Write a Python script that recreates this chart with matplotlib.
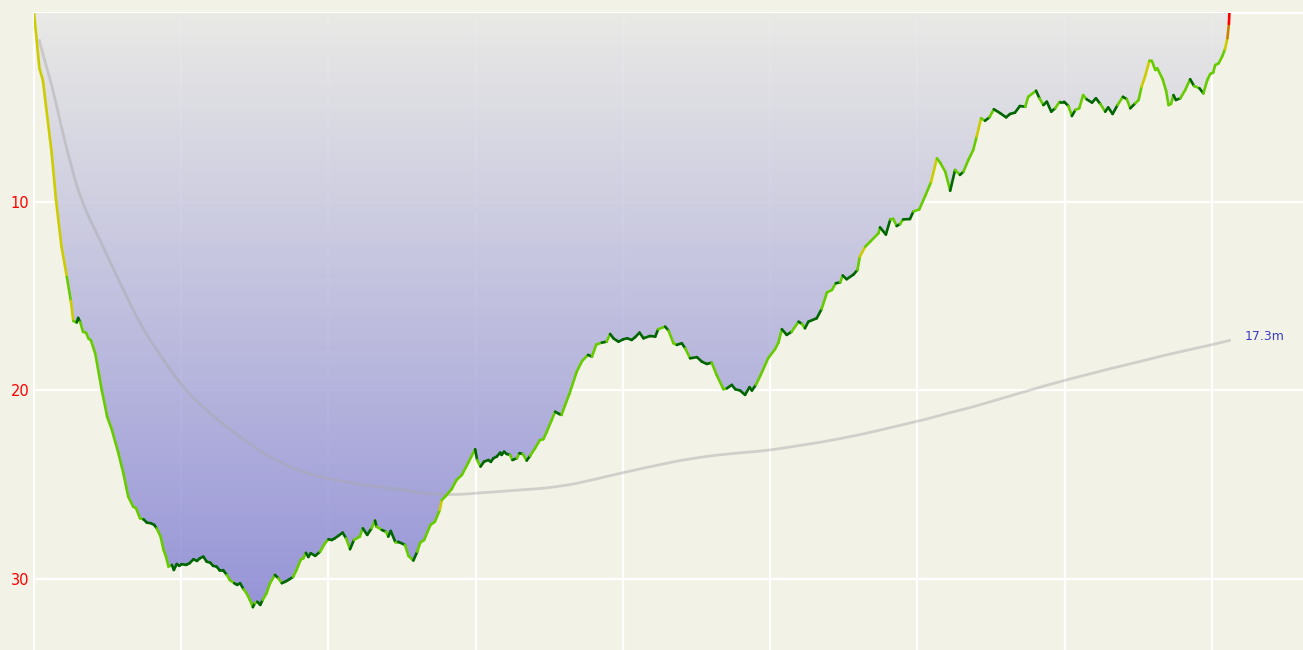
import numpy as np
import matplotlib
matplotlib.use("Agg")
import matplotlib.pyplot as plt
from matplotlib.collections import LineCollection
from matplotlib.colors import LinearSegmentedColormap
from matplotlib.patches import Polygon

# dive profile: time in seconds, depth in metres
time_s = [0, 11, 18, 36, 45, 56, 67, 75, 80, 87, 90, 94, 100, 106, 111, 116, 125, 138, 145,
          149, 158, 172, 182, 192, 202, 208, 216, 223, 230, 238, 245, 250, 258, 264, 269, 274, 281, 285, 291,
          296, 301, 310, 317, 325, 332, 338, 345, 352, 359, 365, 372, 378, 385, 393, 399, 408, 414, 420, 427,
          433, 440, 446, 450, 455, 461, 466, 474, 481, 491, 498, 505, 512, 518, 528, 535, 544, 549, 554, 559,
          564, 573, 583, 593, 600, 607, 613, 620, 629, 636, 644, 652, 664, 670, 679, 688, 695, 698, 709, 717,
          722, 727, 736, 742, 756, 763, 773, 781, 787, 795, 808, 817, 827, 831, 838, 851, 861, 872, 885, 899,
          903, 910, 917, 926, 931, 936, 943, 950, 953, 958, 963, 970, 975, 984, 989, 996, 1004, 1011, 1021, 1031,
          1038, 1045, 1055, 1062, 1070, 1075, 1082, 1091, 1106, 1117, 1129, 1137, 1146, 1157, 1167, 1174, 1181, 1191, 1201, 1209,
          1218, 1225, 1234, 1242, 1255, 1266, 1272, 1286, 1293, 1303, 1310, 1320, 1327, 1337, 1351, 1361, 1371, 1381, 1391, 1405,
          1412, 1422, 1429, 1439, 1449, 1458, 1463, 1471, 1481, 1496, 1510, 1517, 1524, 1534, 1544, 1558, 1565, 1571, 1578, 1595,
          1605, 1616, 1626, 1634, 1643, 1648, 1656, 1670, 1678, 1683, 1694, 1704, 1721, 1724, 1736, 1745, 1751, 1758, 1765, 1771,
          1785, 1792, 1804, 1816, 1828, 1840, 1847, 1857, 1867, 1877, 1887, 1894, 1904, 1914, 1921, 1930, 1938, 1947, 1956, 1969,
          1981, 1989, 1999, 2009, 2020, 2026, 2042, 2049, 2057, 2064, 2073, 2081, 2090, 2099, 2108, 2115, 2122, 2130, 2138, 2145,
          2156, 2164, 2173, 2183, 2189, 2198, 2208, 2219, 2227, 2234, 2244, 2251, 2257, 2264, 2273, 2278, 2285, 2289, 2300, 2307,
          2312, 2317, 2322, 2327, 2336, 2346, 2356, 2364, 2375, 2383, 2391, 2397, 2403, 2407, 2414, 2421, 2427, 2432, 2435, 2436]

depth_m = [0.00, 2.93, 3.55, 7.42, 9.96, 12.38, 13.99, 15.26, 16.32, 16.40, 16.16, 16.37, 16.90, 16.94, 17.25, 17.35, 18.07, 19.98, 20.86,
           21.39, 22.04, 23.33, 24.39, 25.63, 26.16, 26.25, 26.78, 26.83, 27.01, 27.04, 27.13, 27.31, 27.75, 28.46, 28.81, 29.34, 29.25, 29.52, 29.20,
           29.30, 29.21, 29.25, 29.16, 28.95, 29.04, 28.90, 28.81, 29.08, 29.13, 29.30, 29.34, 29.52, 29.52, 29.78, 30.05, 30.22, 30.31, 30.22, 30.54,
           30.75, 31.11, 31.49, 31.28, 31.20, 31.37, 31.11, 30.75, 30.22, 29.78, 29.96, 30.22, 30.14, 30.05, 29.89, 29.52, 28.95, 28.90, 28.61, 28.83,
           28.63, 28.77, 28.55, 28.10, 27.89, 27.93, 27.84, 27.71, 27.54, 27.84, 28.42, 27.93, 27.75, 27.31, 27.66, 27.31, 26.90, 27.22, 27.40, 27.49,
           27.75, 27.45, 28.02, 28.02, 28.19, 28.77, 29.02, 28.55, 28.07, 27.93, 27.13, 26.96, 26.34, 25.81, 25.63, 25.24, 24.75, 24.48, 23.83, 23.12,
           23.69, 24.04, 23.78, 23.69, 23.79, 23.60, 23.51, 23.30, 23.42, 23.25, 23.37, 23.42, 23.69, 23.60, 23.33, 23.37, 23.72, 23.47, 23.07, 22.63,
           22.59, 22.19, 21.57, 21.13, 21.25, 21.30, 20.80, 20.19, 19.01, 18.44, 18.12, 18.21, 17.57, 17.47, 17.42, 17.01, 17.25, 17.42, 17.29, 17.24,
           17.33, 17.18, 16.94, 17.24, 17.12, 17.15, 16.76, 16.62, 16.83, 17.50, 17.59, 17.50, 17.77, 18.30, 18.24, 18.48, 18.60, 18.53, 19.18, 19.94,
           19.89, 19.71, 19.94, 20.01, 20.24, 19.83, 20.01, 19.71, 19.18, 18.30, 17.82, 17.47, 16.76, 17.06, 16.89, 16.36, 16.48, 16.71, 16.36, 16.18,
           15.69, 14.81, 14.68, 14.32, 14.28, 13.91, 14.11, 13.86, 13.62, 12.91, 12.38, 12.12, 11.67, 11.36, 11.74, 10.94, 10.91, 11.29, 11.18, 10.94,
           10.92, 10.52, 10.41, 9.70, 8.96, 7.70, 7.95, 8.41, 9.42, 8.32, 8.58, 8.41, 7.79, 7.26, 6.55, 5.58, 5.71, 5.53, 5.10, 5.31,
           5.53, 5.35, 5.28, 4.93, 4.97, 4.44, 4.12, 4.52, 4.88, 4.70, 5.23, 5.05, 4.70, 4.70, 4.93, 5.46, 5.14, 5.05, 4.35, 4.57,
           4.75, 4.52, 4.82, 5.23, 5.00, 5.35, 4.88, 4.44, 4.57, 5.05, 4.79, 4.61, 3.91, 3.38, 2.53, 2.54, 3.02, 2.93, 3.51, 4.12,
           4.88, 4.82, 4.35, 4.61, 4.52, 4.08, 3.51, 3.87, 3.99, 4.26, 3.55, 3.23, 3.16, 2.76, 2.67, 2.32, 1.92, 1.34, 0.58, 0.00]

depth_ticks = [0, 10, 20, 30]
depth_labels = ["", "10", "20", "30"]
grid_step_s = 300
mean_depth_shown = 17.3  # value printed at the end of the mean depth line

# vertical speed classes (mm/s, + = descending)
velo_limits = [-304, -152, -76, -25, 25, 152, 304, 507]
velo_colors = ["#ff0000", "#cd8000", "#cccc00", "#66cc00", "#006600",
               "#66cc00", "#cccc00", "#cd8000", "#ff0000"]

bg = "#f2f2e6"

t = np.array(time_s, dtype=float)
d = np.array(depth_m, dtype=float)

# running (time weighted) average depth
area = np.cumsum(np.diff(t) * (d[1:] + d[:-1]) / 2)
avg_t = t[1:]
avg_d = area / (avg_t - t[0])

# speed at each sample from its neighbours, segment coloured by its start sample
n = len(t)
seg_colors = []
for i in range(n - 1):
    lo, hi = max(i - 1, 0), min(i + 1, n - 1)
    speed = (d[hi] - d[lo]) / (t[hi] - t[lo]) * 1000
    seg_colors.append(velo_colors[np.searchsorted(velo_limits, speed, side="right")])

fig = plt.figure(figsize=(13.03, 6.5), dpi=100, facecolor=bg)
ax = fig.add_axes([34 / 1303, 0, 1269 / 1303, 637 / 650])
ax.set_facecolor(bg)
ax.set_xlim(0, 2586)
ax.set_ylim(33.76, 0)
for s in ax.spines.values():
    s.set_visible(False)

ax.set_xticks(np.arange(0, 2586, grid_step_s))
ax.set_yticks(depth_ticks)
ax.set_yticklabels(depth_labels)
ax.tick_params(length=0, labelbottom=False, labelcolor="red", labelsize=10.5, pad=3.5)
ax.grid(True, color="white", lw=1.6)
ax.set_axisbelow(True)
for gl in ax.get_xgridlines() + ax.get_ygridlines():
    gl.set_clip_on(False)

# gradient fill under the surface
cmap = LinearSegmentedColormap.from_list("depth", ["#e8e8e6", "#8684d5"])
grad = np.linspace(0, 1, 256).reshape(-1, 1)
im = ax.imshow(grad, extent=[t[0], t[-1], d.max(), 0], aspect="auto",
               cmap=cmap, alpha=0.85, zorder=2, interpolation="bilinear")
clip = Polygon(np.column_stack([t, d]), closed=True, transform=ax.transData)
im.set_clip_path(clip)

ax.plot(avg_t, avg_d, color="#a8a8a8", alpha=0.45, lw=2, zorder=3)
ax.annotate(f"{mean_depth_shown:.1f}m", xy=(avg_t[-1], avg_d[-1]), xytext=(15, 4),
            textcoords="offset pixels", color="#3c3cc8", fontsize=9, va="center")

pts = np.column_stack([t, d]).reshape(-1, 1, 2)
segs = np.concatenate([pts[:-1], pts[1:]], axis=1)
lc = LineCollection(segs, colors=seg_colors, linewidths=1.9, capstyle="round", zorder=4)
ax.add_collection(lc)

fig.savefig("out.png", dpi=100, facecolor=bg)
